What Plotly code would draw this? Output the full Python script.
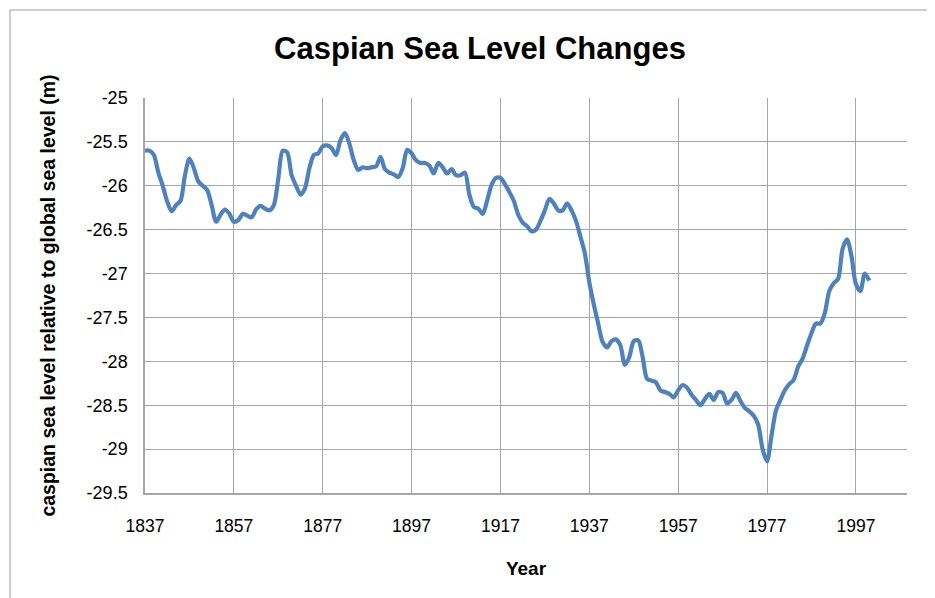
import plotly.graph_objects as go

years = list(range(1837, 2001))
levels = [
    -25.60, -25.60, -25.65, -25.85, -26.00, -26.18, -26.29, -26.22, -26.17, -25.88,  # 1837-1846
    -25.69, -25.80, -25.95, -26.00, -26.05, -26.22, -26.41, -26.33, -26.27, -26.32,  # 1847-1856
    -26.41, -26.39, -26.32, -26.34, -26.36, -26.27, -26.23, -26.26, -26.28, -26.22,  # 1857-1866
    -25.92, -25.60, -25.62, -25.88, -26.00, -26.10, -26.03, -25.80, -25.65, -25.63,  # 1867-1876
    -25.55, -25.54, -25.57, -25.65, -25.48, -25.40, -25.52, -25.71, -25.82, -25.79,  # 1877-1886
    -25.80, -25.79, -25.78, -25.67, -25.81, -25.85, -25.87, -25.90, -25.80, -25.59,  # 1887-1896
    -25.63, -25.71, -25.74, -25.74, -25.77, -25.86, -25.74, -25.79, -25.86, -25.81,  # 1897-1906
    -25.88, -25.88, -25.85, -26.10, -26.24, -26.26, -26.32, -26.17, -25.99, -25.91,  # 1907-1916
    -25.91, -25.98, -26.07, -26.17, -26.33, -26.42, -26.46, -26.52, -26.50, -26.40,  # 1917-1926
    -26.28, -26.15, -26.20, -26.28, -26.28, -26.20, -26.28, -26.40, -26.58, -26.77,  # 1927-1936
    -27.10, -27.35, -27.57, -27.78, -27.84, -27.77, -27.75, -27.82, -28.04, -27.95,  # 1937-1946
    -27.77, -27.76, -27.95, -28.20, -28.22, -28.24, -28.33, -28.35, -28.37, -28.41,  # 1947-1956
    -28.33, -28.27, -28.30, -28.38, -28.44, -28.50, -28.43, -28.37, -28.44, -28.35,  # 1957-1966
    -28.36, -28.48, -28.44, -28.36, -28.45, -28.53, -28.57, -28.62, -28.72, -29.00,  # 1967-1976
    -29.14, -28.85, -28.56, -28.44, -28.33, -28.26, -28.21, -28.06, -27.97, -27.82,  # 1977-1986
    -27.68, -27.57, -27.57, -27.45, -27.20, -27.11, -27.06, -26.72, -26.61, -26.80,  # 1987-1996
    -27.12, -27.20, -27.00, -27.08,                                                  # 1997-2000
]
x_ticks = [1837, 1857, 1877, 1897, 1917, 1937, 1957, 1977, 1997]
y_ticks = [-25, -25.5, -26, -26.5, -27, -27.5, -28, -28.5, -29, -29.5]

FONT = "Liberation Sans, Arial, sans-serif"
GRID = "#A6A6A6"

W, H = 927, 590          # page adds an 8px body margin
L, R, T, B = 137, 28, 90, 105
PW, PH = W - L - R, H - T - B

fig = go.Figure()
fig.add_trace(go.Scatter(
    x=years, y=levels, mode="lines",
    line=dict(color="#4F81BD", width=4.2, shape="spline", smoothing=0.8),
    showlegend=False, hoverinfo="x+y",
))

fig.update_layout(
    width=W, height=H,
    paper_bgcolor="white", plot_bgcolor="white",
    margin=dict(l=L, r=R, t=T, b=B, autoexpand=False),
    title=dict(text="<b>Caspian Sea Level Changes</b>", x=(480 - 8) / W, xanchor="center",
               y=1 - 40 / H, yanchor="middle",
               font=dict(family=FONT, size=31, color="black")),
    xaxis=dict(
        range=[1837, 2008.5], tickmode="array", tickvals=x_ticks,
        ticktext=[str(v) for v in x_ticks],
        showgrid=True, gridcolor=GRID, gridwidth=1,
        showline=True, linecolor=GRID, linewidth=1.5,
        zeroline=False, ticks="", ticklabelstandoff=16,
        tickfont=dict(family=FONT, size=17.5, color="black"),
        title=dict(text="<b>Year</b>", standoff=27,
                   font=dict(family=FONT, size=19, color="black")),
    ),
    yaxis=dict(
        range=[-29.5, -25], tickmode="array", tickvals=y_ticks,
        ticktext=[f"{v:g}" for v in y_ticks],
        showgrid=True, gridcolor=GRID, gridwidth=1,
        showline=True, linecolor=GRID, linewidth=1.5,
        zeroline=False, ticks="", ticklabelstandoff=12,
        tickfont=dict(family=FONT, size=18, color="black"),
        title=dict(text="<b>caspian sea level relative to global sea level (m)</b>",
                   standoff=26,
                   font=dict(family=FONT, size=19.5, color="black")),
    ),
    shapes=[dict(type="rect", xref="paper", yref="paper",
                 x0=(2 - L) / PW, x1=(W + 20 - L) / PW,
                 y0=(T + PH - (H + 20)) / PH, y1=(T + PH - 2) / PH,
                 line=dict(color="#BFBFBF", width=1.5), fillcolor="rgba(0,0,0,0)",
                 layer="below")],
)

fig.write_html("out.html")
